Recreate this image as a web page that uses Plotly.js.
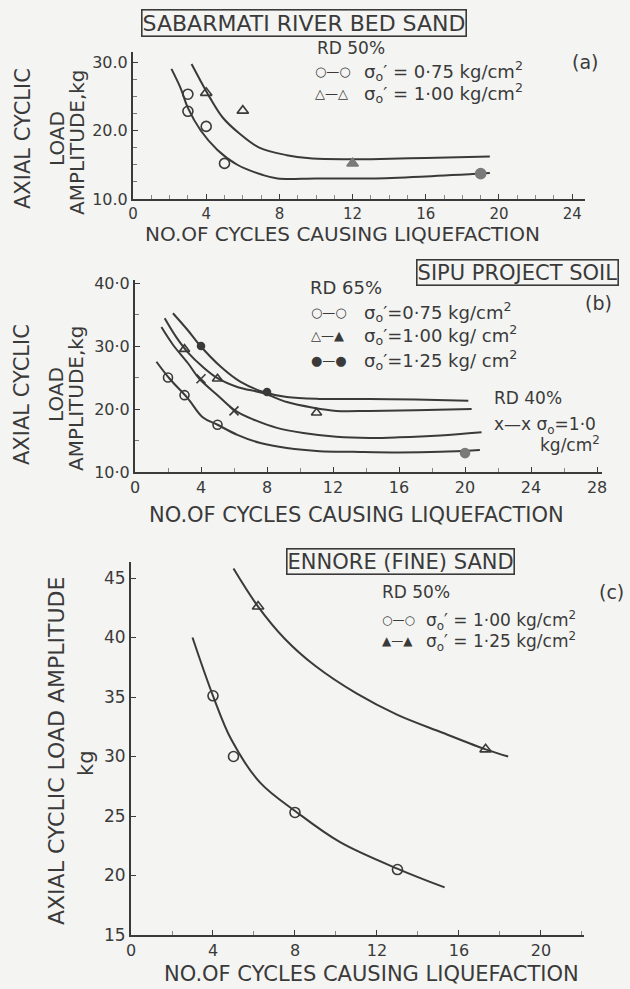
<!DOCTYPE html>
<html>
<head>
<meta charset="utf-8">
<script src="https://cdn.plot.ly/plotly-3.0.1.min.js"></script>
<style>html,body{margin:0;padding:0;background:#f4f4f2;}#chart{width:630px;height:989px;}</style>
</head>
<body>
<div id="chart"></div>
<script>
// ---------- (a) SABARMATI RIVER BED SAND, RD 50% ----------
const aCycles075 = [3, 3, 4, 5, 19];
const aLoad075   = [25.3, 22.8, 20.6, 15.2, 13.7];
const aCycles100 = [4, 6, 12];
const aLoad100   = [25.5, 22.9, 15.2];
const aCurveN075 = [2.1, 2.6, 3.0, 3.7, 4.6, 5.7, 7.1, 7.9, 10, 13.0, 16, 19.5];
const aCurveP075 = [29.0, 26.2, 23.3, 20.0, 17.2, 15.0, 13.5, 13.0, 13.0, 13.0, 13.3, 13.8];
const aCurveN100 = [3.2, 3.7, 4.2, 4.9, 5.8, 6.9, 8.4, 9.8, 12.0, 13.0, 16, 19.5];
const aCurveP100 = [29.7, 27.2, 24.8, 21.9, 19.6, 17.5, 16.4, 15.9, 15.8, 15.8, 16.0, 16.2];

// ---------- (b) SIPU PROJECT SOIL, RD 65% & RD 40% ----------
const bCycles075 = [2, 3, 5, 20];
const bLoad075   = [25.0, 22.2, 17.5, 13.0];
const bCycles100 = [3, 5, 11];
const bLoad100   = [29.5, 24.8, 19.4];
const bCycles125 = [4, 8];
const bLoad125   = [30.0, 22.7];
const bCyclesRD40 = [4, 6];
const bLoadRD40   = [24.8, 19.7];
const bCurveN125 = [2.3, 3.2, 3.9, 5.2, 6.4, 7.8, 9.2, 11.2, 14.2, 17, 20.2];
const bCurveP125 = [35.2, 32.5, 30.2, 26.7, 24.3, 22.7, 21.9, 21.6, 21.6, 21.5, 21.3];
const bCurveN100 = [1.8, 2.5, 3.2, 4.1, 5.0, 6.2, 7.8, 9.2, 10.8, 12.2, 14.2, 17, 20.4];
const bCurveP100 = [34.4, 31.4, 29.0, 26.7, 24.9, 23.5, 22.5, 21.1, 20.2, 19.7, 19.7, 19.8, 20.0];
const bCurveNRD40 = [1.6, 2.3, 3.2, 3.9, 5.0, 6.1, 7.2, 8.6, 10.2, 12.2, 14.2, 16, 18.5, 21];
const bCurvePRD40 = [33.0, 30.2, 27.3, 24.8, 22.2, 19.7, 18.3, 17.0, 16.2, 15.6, 15.4, 15.5, 15.8, 16.3];
const bCurveN075 = [1.3, 2.1, 3.2, 4.1, 5.0, 6.2, 7.6, 9.2, 11.2, 13.2, 16, 18.5, 20.9];
const bCurveP075 = [27.5, 24.8, 21.7, 18.7, 17.5, 15.9, 14.6, 13.8, 13.3, 13.2, 13.1, 13.2, 13.5];
const bTickVals = [10, 20, 30, 40];
const bTickText = ['10·0', '20·0', '30·0', '40·0'];

// ---------- (c) ENNORE (FINE) SAND, RD 50% ----------
const cCycles100 = [4, 5, 8, 13];
const cLoad100   = [35.1, 30.0, 25.3, 20.5];
const cCycles125 = [6.2, 17.3];
const cLoad125   = [42.6, 30.6];
const cCurveN100 = [3.0, 4.0, 4.9, 6.3, 8.1, 10.2, 13.1, 15.3];
const cCurveP100 = [40.0, 35.1, 31.4, 27.8, 25.3, 22.8, 20.5, 19.0];
const cCurveN125 = [5.0, 6.2, 7.5, 9.0, 11.0, 13.0, 15.2, 17.3, 18.4];
const cCurveP125 = [45.8, 42.6, 39.9, 37.6, 35.3, 33.5, 32.0, 30.6, 30.0];

const INK = '#3a3a3a';
const SMUDGE = '#7a7a7a';
const FONT = 'DejaVu Sans, sans-serif';
const W = 630, H = 989;
const P = px => px / W;
const Q = py => 1 - py / H;

function curve(x, y, xa, ya) {
  return {x: x, y: y, xaxis: xa, yaxis: ya, mode: 'lines', type: 'scatter',
    line: {color: INK, width: 2, shape: 'spline', smoothing: 1}, hoverinfo: 'skip'};
}
function pts(x, y, xa, ya, sym, size, color) {
  const c = color || INK;
  return {x: x, y: y, xaxis: xa, yaxis: ya, mode: 'markers', type: 'scatter',
    marker: {symbol: sym, size: size || 9, color: c, line: {color: c, width: 1.6}}};
}

const traces = [
  curve(aCurveN075, aCurveP075, 'x', 'y'),
  curve(aCurveN100, aCurveP100, 'x', 'y'),
  pts(aCycles075, aLoad075, 'x', 'y', ['circle-open','circle-open','circle-open','circle-open','circle'], 10,
      [INK, INK, INK, INK, SMUDGE]),
  pts(aCycles100, aLoad100, 'x', 'y', ['triangle-up-open','triangle-up-open','triangle-up'], 10,
      [INK, INK, SMUDGE]),

  curve(bCurveN125, bCurveP125, 'x2', 'y2'),
  curve(bCurveN100, bCurveP100, 'x2', 'y2'),
  curve(bCurveNRD40, bCurvePRD40, 'x2', 'y2'),
  curve(bCurveN075, bCurveP075, 'x2', 'y2'),
  pts(bCycles075, bLoad075, 'x2', 'y2', ['circle-open','circle-open','circle-open','circle'], 9,
      [INK, INK, INK, SMUDGE]),
  pts(bCycles100, bLoad100, 'x2', 'y2', 'triangle-up-open', 9),
  pts(bCycles125, bLoad125, 'x2', 'y2', 'circle', 7),
  pts(bCyclesRD40, bLoadRD40, 'x2', 'y2', 'x-thin-open', 9),

  curve(cCurveN100, cCurveP100, 'x3', 'y3'),
  curve(cCurveN125, cCurveP125, 'x3', 'y3'),
  pts(cCycles100, cLoad100, 'x3', 'y3', 'circle-open', 10),
  pts(cCycles125, cLoad125, 'x3', 'y3', 'triangle-up-open', 10)
];

function xax(domain, range, minorDtick, anchor) {
  return {domain: domain, range: range, anchor: anchor, showline: true, linecolor: INK, linewidth: 2,
    showgrid: false, zeroline: false, dtick: 4, tick0: 0, ticks: 'inside', ticklen: 5, tickcolor: INK,
    tickfont: {family: FONT, size: 16, color: INK},
    minor: {dtick: minorDtick, ticks: 'inside', ticklen: 4, tickcolor: '#888'}};
}
function yax(domain, range, dtick, minorDtick, anchor, extra) {
  const o = {domain: domain, range: range, anchor: anchor, showline: true, linecolor: INK, linewidth: 2,
    showgrid: false, zeroline: false, dtick: dtick, tick0: 0, ticks: 'inside', ticklen: 5, tickcolor: INK,
    tickfont: {family: FONT, size: 16, color: INK},
    minor: {dtick: minorDtick, ticks: 'inside', ticklen: 4, tickcolor: '#777'}};
  return Object.assign(o, extra || {});
}

function txt(text, x, y, size, opts) {
  return Object.assign({text: text, x: P(x), y: Q(y), xref: 'paper', yref: 'paper', showarrow: false,
    font: {family: FONT, size: size, color: INK}, xanchor: 'center', yanchor: 'middle'}, opts || {});
}
const left = {xanchor: 'left'};
const vert = {textangle: -90};
const boxed = {bordercolor: INK, borderwidth: 1.6, borderpad: 0};

const annotations = [
  // (a)
  txt('SABARMATI RIVER BED SAND', 304, 23, 22, boxed),
  txt('RD 50%', 315, 48, 17, left),
  txt('(a)', 585, 62, 19),
  txt('○—○', 313, 71, 13, left),
  txt('σ<sub>o</sub>′ = 0·75 kg/cm<sup>2</sup>', 362, 71, 18, left),
  txt('△—△', 313, 93, 13, left),
  txt('σ<sub>o</sub>′ = 1·00 kg/cm<sup>2</sup>', 362, 93, 18, left),
  txt('AXIAL CYCLIC', 23, 139, 21, vert),
  txt('LOAD', 57, 139, 20, vert),
  txt('AMPLITUDE,kg', 77, 142, 20, vert),
  txt('NO.OF CYCLES CAUSING LIQUEFACTION', 343, 234, 20),
  // (b)
  txt('SIPU PROJECT SOIL', 517, 273, 21, boxed),
  txt('RD 65%', 308, 287, 18, left),
  txt('(b)', 598, 303, 19),
  txt('○—○', 309, 312, 13, left),
  txt('σ<sub>o</sub>′=0·75 kg/cm<sup>2</sup>', 362, 312, 18, left),
  txt('△—▲', 309, 335, 13, left),
  txt('σ<sub>o</sub>′=1·00 kg/ cm<sup>2</sup>', 362, 335, 18, left),
  txt('●—●', 309, 360, 13, left),
  txt('σ<sub>o</sub>′=1·25 kg/ cm<sup>2</sup>', 362, 360, 18, left),
  txt('RD 40%', 492, 398, 17, left),
  txt('x—x σ<sub>o</sub>=1·0', 492, 425, 17, left),
  txt('kg/cm<sup>2</sup>', 538, 444, 17, left),
  txt('AXIAL CYCLIC', 22, 395, 21, vert),
  txt('LOAD', 56, 395, 20, vert),
  txt('AMPLITUDE,kg', 76, 398, 20, vert),
  txt('NO.OF CYCLES CAUSING LIQUEFACTION', 356, 515, 21),
  // (c)
  txt('ENNORE (FINE) SAND', 400, 561, 21, boxed),
  txt('(c)', 611, 592, 19),
  txt('RD 50%', 380, 592, 17, left),
  txt('○—○', 380, 620, 12, left),
  txt('σ<sub>o</sub>′ = 1·00 kg/cm<sup>2</sup>', 424, 620, 17, left),
  txt('▲—▲', 380, 641, 12, left),
  txt('σ<sub>o</sub>′ = 1·25 kg/cm<sup>2</sup>', 424, 641, 17, left),
  txt('AXIAL CYCLIC LOAD AMPLITUDE', 56, 751, 22, vert),
  txt('kg', 86, 763, 21, vert),
  txt('NO.OF CYCLES CAUSING LIQUEFACTION', 371, 974, 21)
];

const layout = {
  width: W, height: H, margin: {l: 0, r: 0, t: 0, b: 0},
  paper_bgcolor: '#f4f4f2', plot_bgcolor: 'rgba(0,0,0,0)',
  showlegend: false, font: {family: FONT, color: INK},
  xaxis:  xax([P(133), P(585)], [0, 24.7], 1, 'y'),
  yaxis:  yax([Q(199), Q(52)], [10, 10 + (199 - 52) / 6.85], 10, 2.5, 'x', {tickformat: '.1f'}),
  xaxis2: xax([P(135), P(602)], [0, 28.3], 2, 'y2'),
  yaxis2: yax([Q(472), Q(280)], [10, 10 + (472 - 280) / 6.3], 10, 5, 'x2', {tickvals: bTickVals, ticktext: bTickText}),
  xaxis3: xax([P(131), P(584)], [0, 22.1], 2, 'y3'),
  yaxis3: yax([Q(935), Q(562)], [15, 15 + (935 - 562) / 11.9], 5, 5, 'x3', {tickfont: {family: FONT, size: 17, color: INK}}),
  annotations: annotations
};
layout.xaxis.tickfont = {family: FONT, size: 15, color: INK};

Plotly.newPlot('chart', traces, layout, {staticPlot: true, displayModeBar: false});
</script>
</body>
</html>
